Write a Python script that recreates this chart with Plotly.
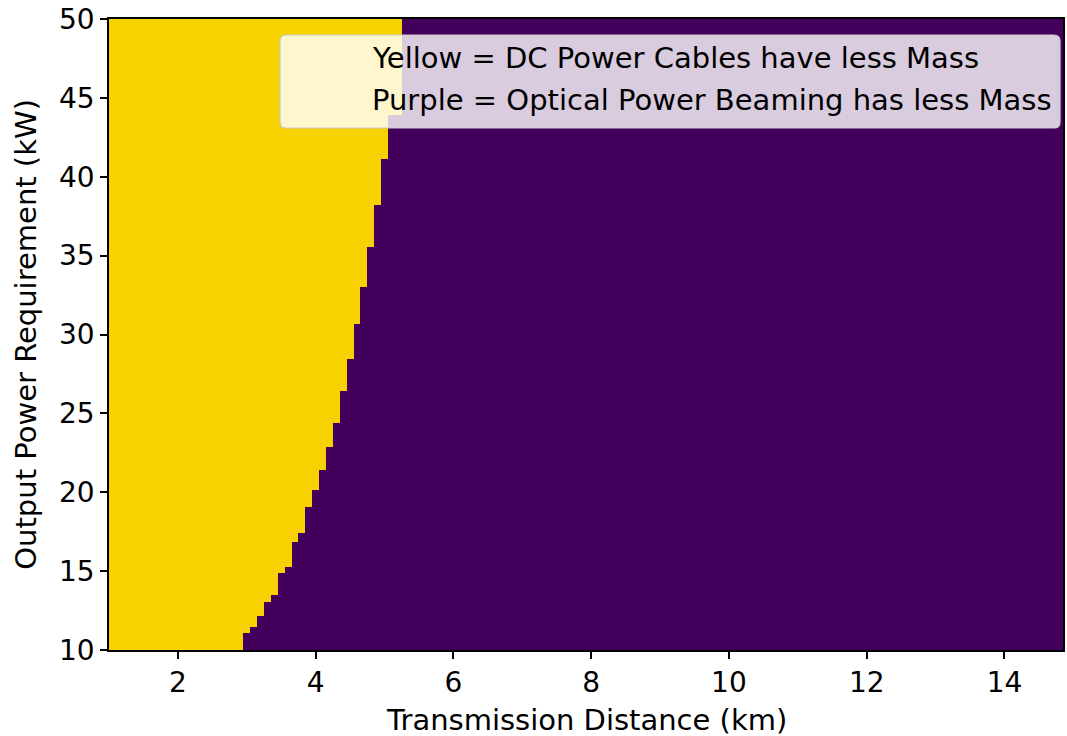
import plotly.graph_objects as go

# Power band edges (kW) where the mass break-even distance changes
power_edges_kw = [10, 11.08, 11.46, 12.16, 13.04, 13.49, 14.88, 15.26, 16.85, 17.42,
                  19.07, 20.14, 21.41, 22.87, 24.36, 26.45, 28.45, 30.67, 33.01,
                  35.55, 38.21, 41.13, 43.9, 50]
# Break-even transmission distance (km) for each power band
breakeven_km = [2.95, 3.05, 3.15, 3.25, 3.35, 3.45, 3.55, 3.65, 3.75, 3.85, 3.95,
                4.05, 4.15, 4.25, 4.35, 4.45, 4.55, 4.65, 4.75, 4.85, 4.95, 5.05, 5.25]
distance_min_km = 1.0
distance_max_km = 14.85

x_ticks = [2, 4, 6, 8, 10, 12, 14]
y_ticks = [10, 15, 20, 25, 30, 35, 40, 45, 50]

YELLOW = "#f7d100"
PURPLE = "#42005c"

x_edges = [distance_min_km] + sorted(set(breakeven_km)) + [distance_max_km]
z = []
for b in breakeven_km:
    row = []
    for j in range(len(x_edges) - 1):
        row.append(0 if x_edges[j + 1] <= b + 1e-9 else 1)
    z.append(row)

fig = go.Figure(go.Heatmap(
    x=x_edges, y=power_edges_kw, z=z,
    colorscale=[[0, YELLOW], [1, PURPLE]], zmin=0, zmax=1,
    showscale=False, hoverinfo="skip", zsmooth=False,
))

FONT = "DejaVu Sans"
W, H = 1067, 736
L, R, T, B = 108.5, 2, 19, 86
pw = W - L - R
ph = H - T - B

def px(xp):
    return (xp - L) / pw

def py(yp):
    return (H - B - yp) / ph

# legend box with rounded corners (paper coords)
x0, x1, y0, y1 = px(280), px(1062), py(128), py(35)
rx, ry = 6 / pw, 6 / ph
path = (f"M {x0+rx},{y0} L {x1-rx},{y0} Q {x1},{y0} {x1},{y0+ry} "
        f"L {x1},{y1-ry} Q {x1},{y1} {x1-rx},{y1} L {x0+rx},{y1} "
        f"Q {x0},{y1} {x0},{y1-ry} L {x0},{y0+ry} Q {x0},{y0} {x0+rx},{y0} Z")
fig.add_shape(type="path", path=path, xref="paper", yref="paper",
              fillcolor="rgba(255,255,255,0.8)", line=dict(color="#cccccc", width=1.2))

fig.add_annotation(text="Yellow = DC Power Cables have less Mass", xref="paper", yref="paper",
                   x=px(370), y=py(58), xanchor="left", yanchor="middle", showarrow=False,
                   font=dict(family=FONT, size=29, color="black"))
fig.add_annotation(text="Purple = Optical Power Beaming has less Mass", xref="paper", yref="paper",
                   x=px(370), y=py(100), xanchor="left", yanchor="middle", showarrow=False,
                   font=dict(family=FONT, size=29, color="black"))

fig.add_annotation(text="Transmission Distance (km)", xref="paper", yref="paper",
                   x=0.5, y=py(720), xanchor="center", yanchor="middle", showarrow=False,
                   font=dict(family=FONT, size=29, color="black"))
fig.add_annotation(text="Output Power Requirement (kW)", xref="paper", yref="paper",
                   x=px(25), y=py(334), xanchor="center", yanchor="middle", showarrow=False,
                   textangle=-90, font=dict(family=FONT, size=29, color="black"))

axis_common = dict(showline=True, linecolor="black", linewidth=1.5, mirror=True,
                   ticks="outside", ticklen=7, tickwidth=1.5, tickcolor="black",
                   showgrid=False, zeroline=False,
                   tickfont=dict(family=FONT, size=28, color="black"))
fig.update_xaxes(range=[distance_min_km, distance_max_km], tickvals=x_ticks, **axis_common)
fig.update_yaxes(range=[power_edges_kw[0], power_edges_kw[-1]], tickvals=y_ticks, **axis_common)

fig.update_layout(width=W, height=H, margin=dict(l=L, r=R, t=T, b=B),
                  plot_bgcolor="white", paper_bgcolor="white",
                  font=dict(family=FONT, color="black"))

fig.write_html("out.html")
